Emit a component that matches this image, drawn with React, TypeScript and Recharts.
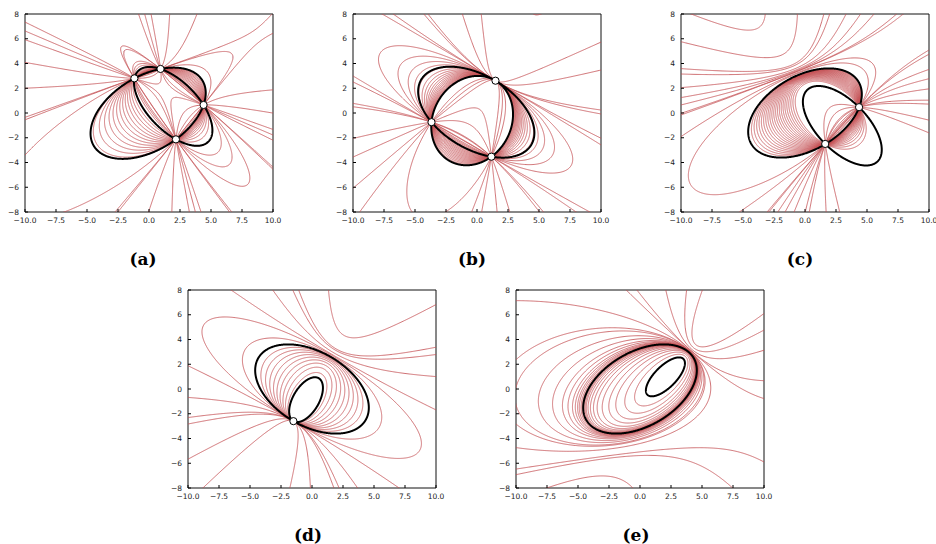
import React from 'react';
import { ComposedChart, Line, XAxis, YAxis, Scatter, ReferenceArea } from 'recharts';

type Pt = [number, number];
type Conic = number[];

// ---------------- data ----------------
const xTicks = [-10, -7.5, -5, -2.5, 0, 2.5, 5, 7.5, 10];
const yTicks = [-8, -6, -4, -2, 0, 2, 4, 6, 8];
const panelLabels = ['(a)', '(b)', '(c)', '(d)', '(e)'];

// (a) four real base points
const aBase: Pt[] = [[-1.18, 2.8], [0.93, 3.56], [4.4, 0.65], [2.17, -2.13]];
const aBlack1Extra: Pt[] = [[-4.7, -1.91]];
const aBlack2Extra: Pt[] = [[4.13, -2.63]];
const aRedInner: Pt[] = [
  [-4.1, 0], [-3.8, 0], [-3.5, 0], [-3.2, 0], [-2.9, 0], [-2.6, 0], [-2.3, 0], [-2.0, 0],
  [-1.7, 0], [-1.4, 0], [-1.1, 0], [-0.8, 0], [-0.5, 0], [-0.2, 0], [0.1, 0], [0.4, 0],
];
const aRedOuter: Pt[] = [
  [0.9, 0.8], [1.8, 0.2],
  [-10, 6.63], [-10, 4.09], [-10, 2.0], [-10, -0.35], [-10, -3.4],
  [-0.31, 8], [1.76, 8], [4.13, 8],
  [-7.5, -8], [-2.74, -8], [-0.17, -8], [1.76, -8], [3.73, -8], [6.5, -8],
  [10, 2.0], [10, 0.1], [10, -1.64], [10, -4.26],
  [-1.9, 5.1], [6.56, 4.88], [6.56, -4.07],
];

// (b) three real base points, tangency at the second one
const bBase: Pt[] = [[-3.67, -0.74], [1.49, 2.61], [1.16, -3.53]];
const bBlack1Extra: Pt[] = [[-4.56, 1.86], [-0.78, 3.61], [4.6, -1.24], [4.2, -2.99]];
const bBlack2Extra: Pt[] = [
  [-3.2, -3.26], [-1.59, -4.47], [0.3, -4.2], [2.45, -2.45], [2.72, -0.3], [-2.67, 1.86], [-0.78, 3.07],
];
const bRedInner: Pt[] = [
  [-1.25, -2.3], [-1.25, -2.4], [-1.25, -2.5], [-1.25, -2.6], [-1.25, -2.7], [-1.25, -2.8],
  [-1.25, -2.9], [-1.25, -3.0], [-1.25, -3.1], [-1.25, -3.2], [-1.25, -3.3], [-1.25, -3.4],
  [-1.25, -3.5], [-1.25, -3.6], [-1.25, -3.7], [-1.25, -3.8], [-1.25, -3.9], [-1.25, -4.0],
  [-1.25, -4.1],
];
const bRedOuter: Pt[] = [
  [0.03, 0.38], [-1.32, 0.24], [0.8, -0.8],
  [-7.65, 8], [-4.29, 8], [-1.18, 8], [0.16, 8],
  [-10, 2.75], [-10, 0.57], [-10, -1.96], [-10, -3.47], [-10, -6.08],
  [-9.46, -8], [-5.23, -8], [-2.53, -8], [-0.25, -8], [0.43, -8], [2.72, -8], [5.15, -8], [8.52, -8],
  [10, 5.63], [10, 3.47], [10, 0.24], [10, -2.04],
];

// (c) two real base points
const cBase: Pt[] = [[4.36, 0.47], [1.63, -2.5]];
const cBlack1Ellipse = [0, 0, 5, 3, 30]; // cx, cy, a, b, angle
const cBlack2Extra: Pt[] = [[0.98, 2.18], [6.19, -2.99], [-0.15, 0.6]];
const cRedInner: Pt[] = [
  [-4.3, -1], [-4.1, -1], [-3.9, -1], [-3.7, -1], [-3.5, -1], [-3.3, -1], [-3.1, -1], [-2.9, -1],
  [-2.7, -1], [-2.5, -1], [-2.3, -1], [-2.1, -1], [-1.9, -1], [-1.7, -1], [-1.5, -1], [-1.3, -1],
  [-1.1, -1], [-0.9, -1], [-0.7, -1], [-0.5, -1], [-0.3, -1], [-0.1, -1],
];
const cRedOuter: Pt[] = [
  [-4.4, 6.7], [-9.4, -4.87],
  [-10, 5.76], [-10, 3.15], [-10, 2.05], [-10, 0.65], [-10, -0.03], [-10, -1.91],
  [-3.33, 8], [-0.77, 8], [1.52, 8], [3.41, 8], [4.48, 8], [5.83, 8], [7.71, 8],
  [10, 5.09], [10, 3.61], [10, 2.0], [10, 1.05], [10, -0.48], [10, -1.51],
  [-5.21, -8], [-2.92, -8], [-2.11, -8], [-0.9, -8], [-0.1, -8], [1.79, -8], [2.6, -8],
];

// (d) one real base point (tangency)
const dBase: Pt[] = [[-1.5, -2.598]];
const dBlack1Ellipse = [0, 0, 5, 3, -30];
const dBlack2Extra: Pt[] = [[0.25, 0.95], [0.88, 0.0], [-1.8, -1.4]];
const dRedInner: Pt[] = [
  [0.9, -1], [1.3, -1], [1.7, -1], [2.1, -1], [2.5, -1], [2.9, -1], [3.3, -1], [3.7, -1], [4.1, -1],
];
const dRedOuter: Pt[] = [
  [5.3, -1], [6.65, -1], [-6.9, 1.48], [3.83, 4.17],
  [-10, 1.88], [-10, -0.68], [-10, -2.83], [-10, -5.66],
  [-6.65, 8], [-3.29, 8], [-1.55, 8], [1.14, 8],
  [10, 6.73], [10, 3.42], [10, 0.99], [10, -1.62],
  [-8.8, -8], [-1.68, -8], [1.68, -8], [3.56, -8], [6.91, -8],
];

// (e) no real base points
const eBase: Pt[] = [];
const eBlack1Ellipse = [0, 0, 5, 3, 30];
const eBlack2Ellipse = [2.05, 0.98, 2.05, 0.87, 45];
const eRedInner: Pt[] = [
  [0.3, 1], [-0.3, 1], [-0.9, 1], [-1.4, 1], [-1.9, 1], [-2.3, 1], [-2.6, 1], [-2.85, 1],
  [-3.05, 1], [-3.2, 1], [-3.3, 1], [-3.4, 1], [-3.55, 1], [-3.65, 1], [-3.8, 1], [-3.95, 1],
  [-4.15, 1], [-4.4, 1], [-4.8, 1], [-5.3, 1], [-6.2, 1], [-7.5, 1],
];
const eRedOuter: Pt[] = [
  [-10, 0.13], [-10, -2.83], [-10, -6.47], [-10, 7.14], [-7.52, -8],
  [-1.07, 8], [3.76, 8], [10, 0.67], [10, 6.1],
];

// ---------------- conic helpers ----------------
const rowPoint = ([x, y]: Pt) => [x * x, x * y, y * y, x, y, 1];
const rowTangent = ([x, y]: Pt, [dx, dy]: Pt) => [2 * x * dx, y * dx + x * dy, 2 * y * dy, dx, dy, 0];
const dot = (a: number[], b: number[]) => a.reduce((s, v, i) => s + v * b[i], 0);

function smallestEigvec(S: number[][]): number[] {
  const n = S.length;
  const a = S.map((r) => r.slice());
  const v = S.map((_, i) => S.map((__, j) => (i === j ? 1 : 0)));
  for (let sweep = 0; sweep < 80; sweep++) {
    let off = 0;
    for (let p = 0; p < n; p++) for (let q = p + 1; q < n; q++) off += a[p][q] * a[p][q];
    if (off < 1e-30) break;
    for (let p = 0; p < n; p++) {
      for (let q = p + 1; q < n; q++) {
        const apq = a[p][q];
        if (Math.abs(apq) < 1e-300) continue;
        const theta = (a[q][q] - a[p][p]) / (2 * apq);
        const t = (theta >= 0 ? 1 : -1) / (Math.abs(theta) + Math.sqrt(theta * theta + 1));
        const c = 1 / Math.sqrt(t * t + 1), s = t * c;
        for (let k = 0; k < n; k++) {
          const akp = a[k][p], akq = a[k][q];
          a[k][p] = c * akp - s * akq;
          a[k][q] = s * akp + c * akq;
        }
        for (let k = 0; k < n; k++) {
          const apk = a[p][k], aqk = a[q][k];
          a[p][k] = c * apk - s * aqk;
          a[q][k] = s * apk + c * aqk;
        }
        for (let k = 0; k < n; k++) {
          const vkp = v[k][p], vkq = v[k][q];
          v[k][p] = c * vkp - s * vkq;
          v[k][q] = s * vkp + c * vkq;
        }
      }
    }
  }
  let best = 0;
  for (let i = 1; i < n; i++) if (a[i][i] < a[best][best]) best = i;
  return v.map((r) => r[best]);
}

// conic that satisfies the 'required' rows exactly and fits the 'extra' points in least squares
function fitConic(required: number[][], extra: Pt[]): Conic {
  const U: number[][] = [];
  required.forEach((r) => {
    let w = r.slice();
    U.forEach((u) => { const d = dot(w, u); w = w.map((x, i) => x - d * u[i]); });
    const n = Math.hypot(...w);
    if (n > 1e-10) U.push(w.map((x) => x / n));
  });
  const N: number[][] = [];
  for (let i = 0; i < 6 && U.length + N.length < 6; i++) {
    let w = [0, 0, 0, 0, 0, 0];
    w[i] = 1;
    [...U, ...N].forEach((u) => { const d = dot(w, u); w = w.map((x, k) => x - d * u[k]); });
    const n = Math.hypot(...w);
    if (n > 1e-6) N.push(w.map((x) => x / n));
  }
  const rows = extra.map((p) => { const r = rowPoint(p); const n = Math.hypot(...r); return r.map((x) => x / n); });
  const m = N.length;
  const S = N.map((na) => N.map((nb) => rows.reduce((s, r) => s + dot(r, na) * dot(r, nb), 0)));
  const w = m === 1 ? [1] : smallestEigvec(S);
  const q = [0, 0, 0, 0, 0, 0].map((_, k) => N.reduce((s, nv, a) => s + w[a] * nv[k], 0));
  const nq = Math.hypot(...q) || 1;
  return q.map((x) => x / nq);
}

function conicFromEllipse([h, k, a, b, deg]: number[]): Conic {
  const t = (deg * Math.PI) / 180;
  const c = Math.cos(t), s = Math.sin(t);
  const A = (c * c) / (a * a) + (s * s) / (b * b);
  const B = 2 * c * s * (1 / (a * a) - 1 / (b * b));
  const C = (s * s) / (a * a) + (c * c) / (b * b);
  const D = -2 * A * h - B * k;
  const E = -B * h - 2 * C * k;
  const F = A * h * h + B * h * k + C * k * k - 1;
  return [A, B, C, D, E, F];
}
const ellipsePoint = ([h, k, a, , deg]: number[]): Pt => {
  const t = (deg * Math.PI) / 180;
  return [h + a * Math.cos(t), k + a * Math.sin(t)];
};

const evalConic = (q: Conic, [x, y]: Pt) => q[0] * x * x + q[1] * x * y + q[2] * y * y + q[3] * x + q[4] * y + q[5];
const gradConic = (q: Conic, [x, y]: Pt): Pt => [2 * q[0] * x + q[1] * y + q[3], q[1] * x + 2 * q[2] * y + q[4]];

type Row = { x: number; y: number | null };

function sampleConic(q: Conic, p0: Pt, out: Row[]) {
  const [A, B, C] = q;
  const [x0, y0] = p0;
  const [gx, gy] = gradConic(q, p0);
  const f = (phi: number): Pt | null => {
    const dx = Math.cos(phi), dy = Math.sin(phi);
    const K = A * dx * dx + B * dx * dy + C * dy * dy;
    const L = gx * dx + gy * dy;
    if (Math.abs(K) < 1e-13) return null;
    const s = -L / K;
    return [x0 + s * dx, y0 + s * dy];
  };
  const inBox = (p: Pt | null) => !!p && Math.abs(p[0]) <= 12.5 && Math.abs(p[1]) <= 10.5;
  const emit = (p: Pt | null) => {
    if (inBox(p)) out.push({ x: p![0], y: p![1] });
    else if (out.length && out[out.length - 1].y !== null) out.push({ x: out[out.length - 1].x, y: null });
  };
  const refine = (pa: number, A1: Pt | null, pb: number, B1: Pt | null, depth: number) => {
    if (depth > 16) return;
    let need = false;
    const ia = inBox(A1), ib = inBox(B1);
    if (ia || ib) {
      if (!A1 || !B1) need = true;
      else if (Math.hypot(A1[0] - B1[0], A1[1] - B1[1]) > 0.09) need = true;
    } else if (A1 && B1 && depth < 6 && Math.hypot(A1[0] - B1[0], A1[1] - B1[1]) > 2) need = true;
    if (!need) return;
    const m = (pa + pb) / 2;
    const pm = f(m);
    refine(pa, A1, m, pm, depth + 1);
    emit(pm);
    refine(m, pm, pb, B1, depth + 1);
  };
  const N = 720;
  let prevPhi = 0;
  let prev = f(0);
  emit(prev);
  for (let i = 1; i <= N; i++) {
    const phi = (Math.PI * i) / N;
    const p = f(phi);
    refine(prevPhi, prev, phi, p, 0);
    emit(p);
    prevPhi = phi;
    prev = p;
  }
  if (out.length && out[out.length - 1].y !== null) out.push({ x: out[out.length - 1].x, y: null });
}

type Panel = { c1: Conic; p1: Pt; c2: Conic; p2: Pt; inner: Pt[]; outer: Pt[]; base: Pt[] };

const tangentRow = (q: Conic, p: Pt) => {
  const g = gradConic(q, p);
  return rowTangent(p, [-g[1], g[0]]);
};

function buildPanels(): Panel[] {
  const a1 = fitConic(aBase.map(rowPoint), aBlack1Extra);
  const a2 = fitConic(aBase.map(rowPoint), aBlack2Extra);
  const b1 = fitConic(bBase.map(rowPoint), bBlack1Extra);
  const b2 = fitConic([...bBase.map(rowPoint), tangentRow(b1, bBase[1])], bBlack2Extra);
  const c1 = conicFromEllipse(cBlack1Ellipse);
  const c2 = fitConic(cBase.map(rowPoint), cBlack2Extra);
  const d1 = conicFromEllipse(dBlack1Ellipse);
  const d2 = fitConic([...dBase.map(rowPoint), tangentRow(d1, dBase[0])], dBlack2Extra);
  const e1 = conicFromEllipse(eBlack1Ellipse);
  const e2 = conicFromEllipse(eBlack2Ellipse);
  return [
    { c1: a1, p1: aBase[0], c2: a2, p2: aBase[0], inner: aRedInner, outer: aRedOuter, base: aBase },
    { c1: b1, p1: bBase[0], c2: b2, p2: bBase[0], inner: bRedInner, outer: bRedOuter, base: bBase },
    { c1, p1: ellipsePoint(cBlack1Ellipse), c2, p2: cBase[0], inner: cRedInner, outer: cRedOuter, base: cBase },
    { c1: d1, p1: ellipsePoint(dBlack1Ellipse), c2: d2, p2: dBase[0], inner: dRedInner, outer: dRedOuter, base: dBase },
    { c1: e1, p1: ellipsePoint(eBlack1Ellipse), c2: e2, p2: ellipsePoint(eBlack2Ellipse), inner: eRedInner, outer: eRedOuter, base: eBase },
  ];
}

function memberThrough(p: Panel, pt: Pt): Conic {
  const v1 = evalConic(p.c1, pt), v2 = evalConic(p.c2, pt);
  const q = p.c1.map((c, i) => v2 * c - v1 * p.c2[i]);
  const n = Math.hypot(...q) || 1;
  return q.map((x) => x / n);
}

function panelSeries(p: Panel) {
  const red: Row[] = [];
  const accepted: Conic[] = [];
  p.inner.forEach((pt) => {
    const q = memberThrough(p, pt);
    accepted.push(q);
    sampleConic(q, pt, red);
  });
  p.outer.forEach((pt) => {
    // skip a reading that lies on a curve that is already drawn
    const near = accepted.some((q) => {
      const g = gradConic(q, pt);
      const gn = Math.hypot(g[0], g[1]);
      return gn > 1e-9 && Math.abs(evalConic(q, pt)) / gn < 0.3;
    });
    if (near) return;
    const q = memberThrough(p, pt);
    accepted.push(q);
    sampleConic(q, pt, red);
  });
  const black: Row[] = [];
  sampleConic(p.c1, p.p1, black);
  sampleConic(p.c2, p.p2, black);
  const markers = p.base.map(([x, y]) => ({ x, y }));
  return { red, black, markers };
}

const layout = [
  { left: 25, top: 14 },
  { left: 352.5, top: 14 },
  { left: 680.5, top: 14 },
  { left: 188, top: 289.5 },
  { left: 516, top: 289.5 },
];
const labelPos = [
  { x: 143, y: 259 },
  { x: 472, y: 259 },
  { x: 800, y: 259 },
  { x: 308, y: 535 },
  { x: 636, y: 535 },
];

const fmtX = (v: number) => (v < 0 ? '\u2212' : '') + Math.abs(v).toFixed(1);
const fmtY = (v: number) => (v < 0 ? '\u2212' : '') + Math.abs(v).toString();
const tickStyle = { fontSize: 7.5, fill: '#222', fontFamily: 'DejaVu Sans' };

const Marker = (props: any) => (
  <circle cx={props.cx} cy={props.cy} r={3.6} fill="#fff" stroke="#000" strokeWidth={1} />
);

function PanelChart({ idx, panel }: { idx: number; panel: Panel }) {
  const s = React.useMemo(() => panelSeries(panel), [panel]);
  const W = 248, H = 198;
  return (
    <div style={{ position: 'absolute', left: layout[idx].left - 30, top: layout[idx].top - 5 }}>
      <ComposedChart width={W + 40} height={H + 25} margin={{ top: 5, right: 10, bottom: 0, left: 0 }}>
        <XAxis type="number" dataKey="x" domain={[-10, 10]} ticks={xTicks} allowDataOverflow
          tickFormatter={fmtX} tick={tickStyle} tickSize={-3} tickMargin={9} height={20}
          axisLine={false} tickLine={{ stroke: '#000' }} interval={0} />
        <YAxis type="number" dataKey="y" domain={[-8, 8]} ticks={yTicks} allowDataOverflow
          tickFormatter={fmtY} tick={tickStyle} tickSize={-3} tickMargin={9} width={30}
          axisLine={false} tickLine={{ stroke: '#000' }} interval={0} />
        <Line data={s.red} dataKey="y" type="linear" stroke="#c44e52" strokeWidth={0.9} strokeOpacity={0.9}
          dot={false} activeDot={false} isAnimationActive={false} connectNulls={false} />
        <Line data={s.black} dataKey="y" type="linear" stroke="#000" strokeWidth={2}
          dot={false} activeDot={false} isAnimationActive={false} connectNulls={false} />
        <Scatter data={s.markers} dataKey="y" shape={Marker} isAnimationActive={false} />
        <ReferenceArea x1={-10} x2={10} y1={-8} y2={8} fill="none" fillOpacity={0} stroke="#111" strokeWidth={1} />
      </ComposedChart>
    </div>
  );
}

export default function App() {
  const panels = React.useMemo(() => buildPanels(), []);
  return (
    <div style={{ position: 'absolute', left: 0, top: 0, width: 936, height: 544, background: '#fff' }}>
      {panels.map((p, i) => (
        <PanelChart key={i} idx={i} panel={p} />
      ))}
      {panelLabels.map((t, i) => (
        <div key={t} style={{
          position: 'absolute', left: labelPos[i].x - 30, top: labelPos[i].y - 12, width: 60,
          textAlign: 'center', fontFamily: '"DejaVu Serif", serif', fontWeight: 'bold', fontSize: 17,
          lineHeight: '24px', color: '#000',
        }}>{t}</div>
      ))}
    </div>
  );
}
